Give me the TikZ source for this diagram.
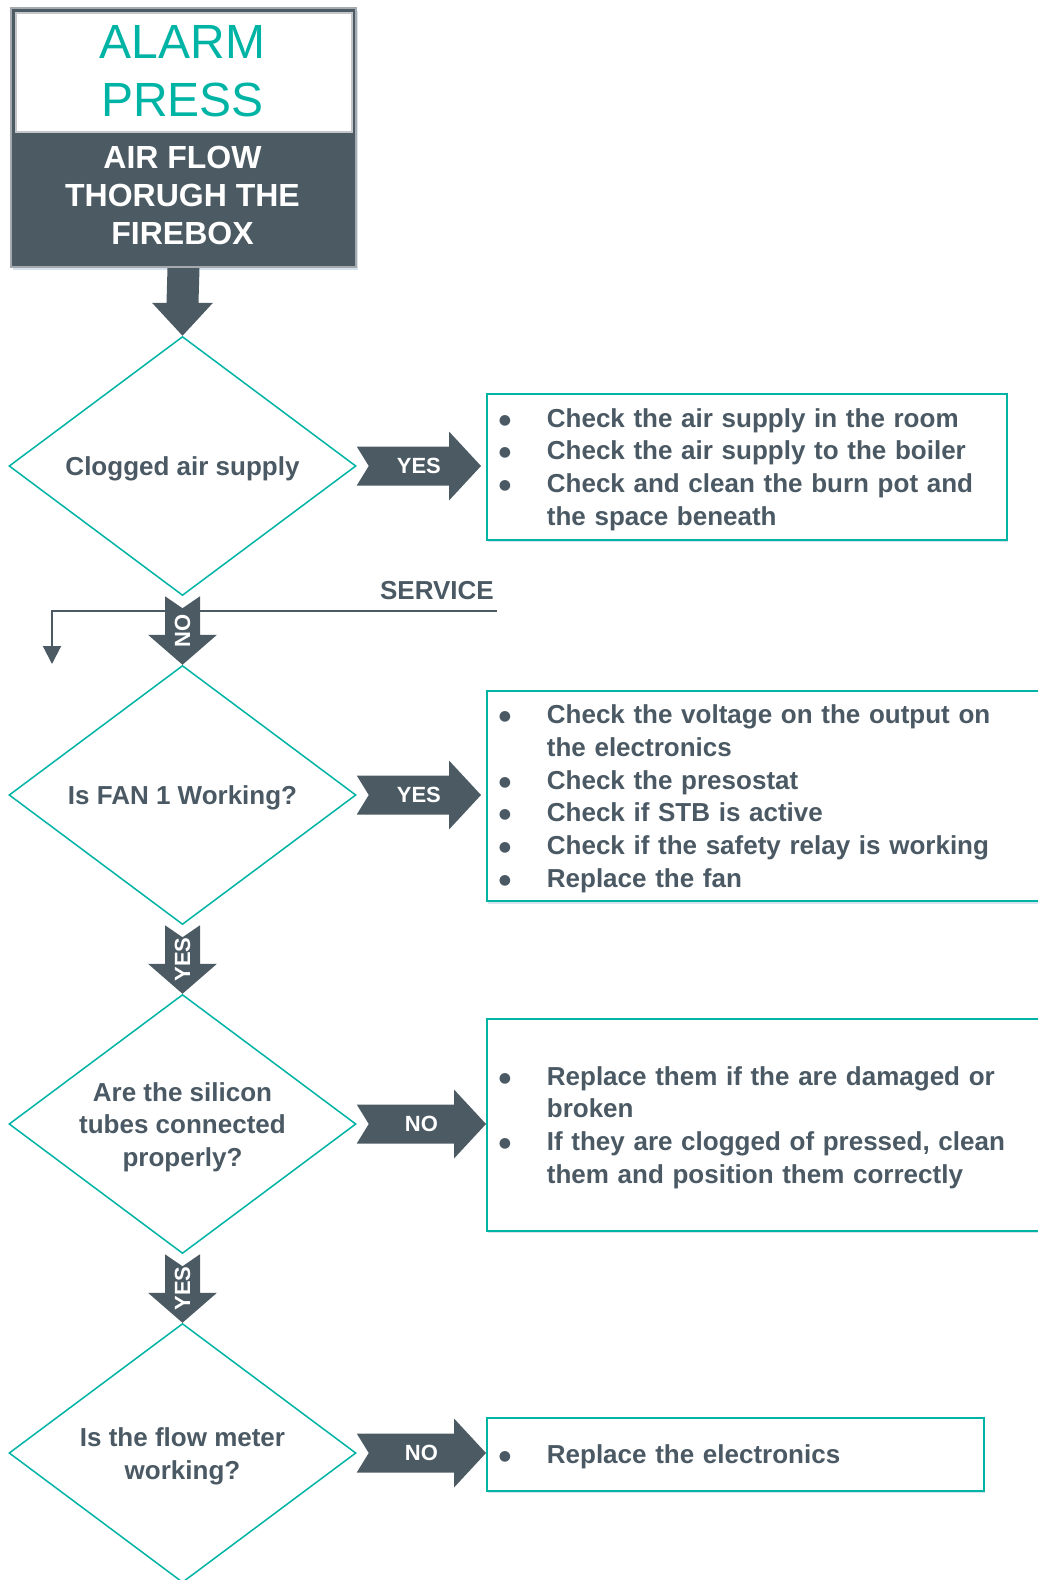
\documentclass[tikz,border=0pt]{standalone}
\usepackage{fontspec}
\setmainfont{Liberation Sans}
\newfontfamily\symfont{DejaVu Sans}
\usetikzlibrary{shapes.geometric,calc,arrows.meta,shadows}
\definecolor{tealc}{RGB}{0,180,165}
\definecolor{slate}{RGB}{75,90,99}
\definecolor{txt}{RGB}{74,89,99}
\definecolor{framec}{RGB}{165,170,174}
\definecolor{innerframe}{RGB}{195,199,201}
\definecolor{shadowc}{RGB}{175,200,220}
\setlength{\parskip}{0pt}
% vertical block arrow: from, to, shaft half width, head half width, head length, notch depth
\newcommand\vblockarrow[6]{%
  \fill[slate] ($(#1)+(-#3,0)$) -- ($(#1)+(0,-#6)$) -- ($(#1)+(#3,0)$) --
    ($(#2)+(#3,#5)$) -- ($(#2)+(#4,#5)$) -- (#2) -- ($(#2)+(-#4,#5)$) --
    ($(#2)+(-#3,#5)$) -- cycle;}
% horizontal notched block arrow: tail, tip
\newcommand\hblockarrow[2]{%
  \fill[slate] ($(#1)+(0,19.5)$) -- ($(#2)+(-32,19.5)$) -- ($(#2)+(-32,34.5)$) --
    (#2) -- ($(#2)+(-32,-34.5)$) -- ($(#2)+(-32,-19.5)$) -- ($(#1)+(0,-19.5)$) --
    ($(#1)+(12,0)$) -- cycle;}
\newcommand\mystrut{\rule[-6pt]{0pt}{26pt}}
\newcommand\topstrut{\rule{0pt}{25pt}}
\newcommand\bitem[1]{\par\noindent\hangindent=48pt\hangafter=1%
  \makebox[48pt][l]{\mystrut\hspace{0pt}\raisebox{3pt}{\symfont\fontsize{14}{14}\selectfont ●}}#1\mystrut\par}
\newcommand\bend{\par\vspace*{8pt}}
\begin{document}
\begin{tikzpicture}[x=1pt,y=1pt,
  dia/.style={diamond, draw=tealc, line width=1.5pt, fill=white,
    minimum width=347pt, minimum height=259pt, inner sep=0pt, aspect=1.34,
    align=center, text=txt, font=\fontsize{26}{32.5}\selectfont\bfseries},
  infobox/.style={draw=tealc, line width=1.8pt, fill=white, anchor=north west,
    inner xsep=12pt, inner ysep=0pt, align=left, text=txt,
    font=\fontsize{26}{32.7}\selectfont\bfseries,
    drop shadow={shadow xshift=1.5pt, shadow yshift=-2.5pt, fill=shadowc, opacity=0.5}},
  arrlbl/.style={text=white, inner sep=0pt, font=\fontsize{22}{26}\selectfont\bfseries}]
\useasboundingbox (0,0) rectangle (1038,-1580);

% title block
\node[draw=framec, line width=2pt, fill=slate, minimum width=345pt, minimum height=259pt,
  anchor=north west, inner sep=0pt,
  drop shadow={shadow xshift=1.5pt, shadow yshift=-2.5pt, fill=shadowc, opacity=0.5}] (title) at (10,-7) {};
\node[draw=innerframe, line width=1.5pt, fill=white, minimum width=336pt, minimum height=119pt,
  anchor=north west, inner sep=0pt] (ttop) at (15,-12) {};
\node[text=tealc, align=center, inner sep=0pt, font=\fontsize{48}{58}\selectfont] (alarm) at (182.5,-71) {ALARM\\PRESS};
\node[text=white, align=center, inner sep=0pt, font=\fontsize{32}{38}\selectfont\bfseries] (airflow) at (182.5,-195.5) {AIR FLOW\\THORUGH THE\\FIREBOX};

% diamonds
\node[dia] (d1) at (182.5,-466) {\topstrut Clogged air supply};
\node[dia] (d2) at (182.5,-795) {\topstrut Is FAN 1 Working?};
\node[dia] (d3) at (182.5,-1124) {\topstrut Are the silicon\\tubes connected\\properly?};
\node[dia] (d4) at (182.5,-1453) {\topstrut Is the flow meter\\working?};

% boxes
\node[infobox, text width=496pt, minimum height=146pt] (b1) at (486,-393) {%
  \bitem{Check the air supply in the room}%
  \bitem{Check the air supply to the boiler}%
  \bitem{Check and clean the burn pot and\newline the space beneath}\bend};
\node[infobox, text width=536pt, minimum height=210pt] (b2) at (486,-690) {%
  \bitem{Check the voltage on the output on\newline the electronics}%
  \bitem{Check the presostat}%
  \bitem{Check if STB is active}%
  \bitem{Check if the safety relay is working}%
  \bitem{Replace the fan}\bend};
\node[infobox, text width=536pt, minimum height=212pt] (b3) at (486,-1018) {%
  \bitem{Replace them if the are damaged or\newline broken}%
  \bitem{If they are clogged of pressed, clean\newline them and position them correctly}\bend};
\node[infobox, text width=473pt, minimum height=73pt] (b4) at (486,-1417) {%
  \bitem{Replace the electronics}\bend};

% service line
\coordinate (svcR) at (497,-611);
\coordinate (svcL) at (52,-611);
\coordinate (svcEnd) at (52,-664);
\draw[slate, line width=2pt, -{Triangle[length=18pt,width=18pt]}] (svcR) -- (svcL) -- (svcEnd);
\node[text=txt, anchor=east, inner sep=0pt, font=\fontsize{26}{30}\selectfont\bfseries] (svc) at (494,-590.5) {SERVICE};

% vertical arrows
\vblockarrow{title.south}{d1.north}{16}{30.5}{33}{0}
\vblockarrow{d1.south}{d2.north}{17.5}{34.5}{30}{12}
\vblockarrow{d2.south}{d3.north}{17.5}{34.5}{30}{12}
\vblockarrow{d3.south}{d4.north}{17.5}{34.5}{30}{12}
\node[arrlbl, rotate=90] (v1) at ($(d1.south)!0.5!(d2.north)$) {NO};
\node[arrlbl, rotate=90] (v2) at ($(d2.south)!0.5!(d3.north)$) {YES};
\node[arrlbl, rotate=90] (v3) at ($(d3.south)!0.5!(d4.north)$) {YES};

% horizontal arrows
\coordinate (t1) at ($(b1.west |- d1.east)+(-5,0)$);
\coordinate (t2) at ($(b2.west |- d2.east)+(-5,0)$);
\coordinate (t3) at (b3.west |- d3.east);
\coordinate (t4) at (b4.west |- d4.east);
\hblockarrow{d1.east}{t1}
\hblockarrow{d2.east}{t2}
\hblockarrow{d3.east}{t3}
\hblockarrow{d4.east}{t4}
\node[arrlbl] (h1) at ($(d1.east)!0.5!(t1)$) {YES};
\node[arrlbl] (h2) at ($(d2.east)!0.5!(t2)$) {YES};
\node[arrlbl] (h3) at ($(d3.east)!0.5!(t3)$) {NO};
\node[arrlbl] (h4) at ($(d4.east)!0.5!(t4)$) {NO};
\end{tikzpicture}
\end{document}
